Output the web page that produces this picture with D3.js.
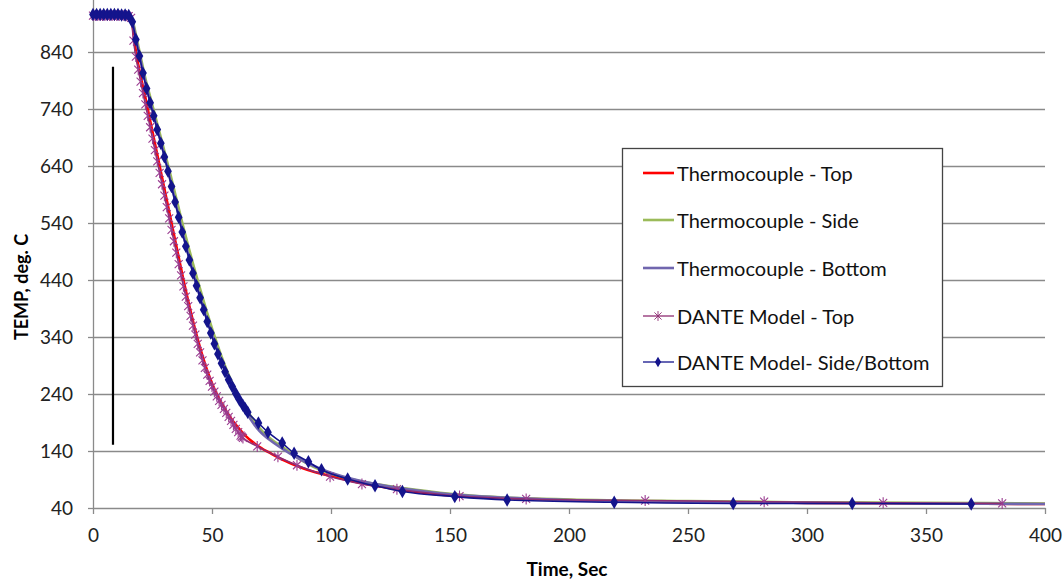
<!DOCTYPE html>
<html><head><meta charset="utf-8">
<script src="https://cdn.jsdelivr.net/npm/d3@7"></script>
<style>
body{margin:0;background:#fff}
svg{display:block}
text{font-family:Lato,"Open Sans",sans-serif}
</style>
</head><body>
<svg id="c" width="1064" height="581"></svg>
<script>
// ---- data (time s, temperature deg C) ----
const xTicks = [0,50,100,150,200,250,300,350,400];
const yTicks = [40,140,240,340,440,540,640,740,840];
const legendLabels = ["Thermocouple - Top","Thermocouple - Side","Thermocouple - Bottom","DANTE Model - Top","DANTE Model- Side/Bottom"];

const tcTop = [[0,904],[5,904],[10,904],[15,903],[16,900],[17,876],[18,842],[19,818],[20,798],[22,760],[24,720],[26,680],[28,640],[30,600],[32,560],[34,520],[36,480],[38,440],[40,403],[42,368],[44,336],[46,307],[48,281],[50,259],[52,240],[55,217],[58,197],[61,181],[64,167],[67,156],[70,147],[75,135],[80,124],[85,115],[90,107],[100,96],[110,86],[120,78],[130,71],[140,66],[150,62],[175,57],[200,54],[250,51],[300,49],[350,48],[400,47]];

const tcSide = [[0,904],[10,904],[15,903],[16,901],[17,890],[18,871],[20,832],[22,794],[24,762],[26,730],[28,698],[30,666],[32,634],[34,600],[36,566],[38,532],[40,500],[42,469],[44,439],[46,410],[48,382],[50,355],[52,330],[54,306],[56,284],[58,264],[60,246],[62,230],[64,216],[66,203],[68,191],[70,180],[75,160],[80,146],[85,131],[90,118],[95,108],[100,100],[110,89],[120,81],[130,75],[150,65],[175,58],[200,55],[250,52],[300,50],[350,49],[400,48]];

const tcBottom = [[0,905],[10,905],[15,904],[16,901],[17,886],[18,865],[20,826],[22,788],[24,754],[26,722],[28,690],[30,658],[32,624],[34,588],[36,552],[38,518],[40,485],[42,454],[44,424],[46,396],[48,369],[50,344],[52,320],[54,298],[56,278],[58,259],[60,241],[62,225],[64,210],[66,197],[68,185],[70,175],[75,157],[80,143],[85,130],[90,119],[95,110],[100,102],[110,90],[120,81],[130,74],[150,64],[175,58],[200,54],[250,51],[300,49],[350,48],[400,47]];

const danteTop = [[0,904],[1,904],[2,904],[3,904],[4,904],[5,904],[6,904],[7,904],[8,904],[9,904],[10,904],[11,904],[12,904],[13,904],[14,904],[15,903],[16,900],[17,860],[18,832],[19,809],[20,788],[21,768],[22,748],[23,728],[24,708],[25,688],[26,668],[27,648],[28,628],[29,608],[30,588],[31,568],[32,548],[33,528],[34,508],[35,488],[36,468],[37,448],[38,429],[39,411],[40,394],[41,377],[42,360],[43,344],[44,328],[45,313],[46,299],[47,286],[48,274],[49,263],[50,253],[51,244],[52,236],[53,228],[54,221],[55,214],[56,207],[57,200],[58,193],[59,186],[60,179],[61,173],[62,167],[62.5,165],[63,163],[69,148],[77.7,130],[85.7,115],[99.6,95],[113,82],[127.7,73],[154,61],[182,56],[232,53],[282,51],[332,49],[382,48]];

const danteSide = [[0,906],[1.5,906],[3,906],[4.5,906],[6,906],[7.5,906],[9,906],[10.5,906],[12,905],[13.5,905],[15,904],[16.5,893],[18,862],[19.5,833],[21,803],[22.5,776],[24,751],[25.5,728],[27,704],[28.5,680],[30,656],[31.5,631],[33,604],[34.5,577],[36,550],[37.5,524],[39,499],[40.5,475],[42,452],[43.5,430],[45,409],[46.5,388],[48,367],[49.5,347],[51,328],[52.5,310],[54,294],[55.5,279],[57,265],[58.5,253],[60,241],[61.5,230],[63,220],[64,214],[65,208],[69.5,189],[73.5,173],[79.5,154],[84.5,136],[90.5,121],[96,107],[107,91],[118.5,79],[130,69],[152,60],[174,54],[219,50],[269,48],[319,48],[369,47]];

// annotation bar drawn on the chart (time, temp range)
const markerBar = {t: 8.4, from: 814, to: 151};

// ---- chart ----
const svg = d3.select("#c");
const x = d3.scaleLinear().domain([0,400]).range([93,1045]);
const y = d3.scaleLinear().domain([40,940]).range([508,-5]);
const gridCol = "#8a8a8a";

// gridlines
const grid = svg.append("g").attr("transform",`translate(${x(0)},0)`)
  .call(d3.axisLeft(y).tickValues(yTicks.slice(1)).tickSize(-(x(400)-x(0))).tickFormat(""));
grid.select(".domain").remove();
grid.selectAll("line").attr("stroke",gridCol).attr("stroke-width",1.3);

// y axis
const ya = svg.append("g").attr("transform",`translate(${x(0)},0)`)
  .call(d3.axisLeft(y).tickValues(yTicks).tickSize(5).tickPadding(15).tickSizeOuter(0));
ya.select(".domain").attr("stroke",gridCol).attr("stroke-width",1.3);
ya.selectAll("line").attr("stroke",gridCol).attr("stroke-width",1.3);
ya.selectAll("text").attr("font-size",19).attr("fill","#222").style("font-family","Lato");

// x axis
const xa = svg.append("g").attr("transform",`translate(0,${y(40)})`)
  .call(d3.axisBottom(x).tickValues(xTicks).tickSize(6).tickPadding(15).tickSizeOuter(0));
xa.select(".domain").attr("stroke",gridCol).attr("stroke-width",1.3);
xa.selectAll("line").attr("stroke",gridCol).attr("stroke-width",1.3);
xa.selectAll("text").attr("font-size",19).attr("fill","#222").style("font-family","Lato");

// titles
svg.append("text").attr("transform","translate(23,287) rotate(-90)")
  .attr("text-anchor","middle").attr("dominant-baseline","middle")
  .attr("font-size",18).attr("font-weight","bold").text("TEMP, deg. C");
svg.append("text").attr("x",567).attr("y",576)
  .attr("text-anchor","middle")
  .attr("font-size",19).attr("font-weight","bold").text("Time, Sec");

// annotation bar
svg.append("line").attr("x1",x(markerBar.t)).attr("x2",x(markerBar.t))
  .attr("y1",y(markerBar.from)).attr("y2",y(markerBar.to))
  .attr("stroke","#000").attr("stroke-width",2.2);

const lineSmooth = d3.line().x(d=>x(d[0])).y(d=>y(d[1])).curve(d3.curveMonotoneX);

const colors = ["#ff0000","#9bbb59","#7066ae","#8e2c72","#14148c"];
const plot = svg.append("g");
[tcTop,tcSide,tcBottom].forEach((s,i)=>{
  plot.append("path").datum(s).attr("d",lineSmooth).attr("fill","none")
    .attr("stroke",colors[i]).attr("stroke-width",2.6).attr("stroke-linejoin","round");
});

const starPath = "M-4,-4L4,4M-4,4L4,-4M0,-5.5L0,5.5";
const diamond = d3.symbol(d3.symbolDiamond).size(52)();

// DANTE top
plot.append("path").datum(danteTop).attr("d",lineSmooth).attr("fill","none")
  .attr("stroke",colors[3]).attr("stroke-width",1.5);
plot.append("g").selectAll("path").data(danteTop).join("path")
  .attr("transform",d=>`translate(${x(d[0])},${y(d[1])})`)
  .attr("d",starPath).attr("stroke","#9a3c90").attr("stroke-width",1.1).attr("fill","none");

// DANTE side/bottom
plot.append("path").datum(danteSide).attr("d",lineSmooth).attr("fill","none")
  .attr("stroke",colors[4]).attr("stroke-width",1.6);
plot.append("g").selectAll("path").data(danteSide).join("path")
  .attr("transform",d=>`translate(${x(d[0])},${y(d[1])})`)
  .attr("d",diamond).attr("fill","#14148c");

// legend
const lg = svg.append("g").attr("transform","translate(622,148)");
lg.append("rect").attr("x",0.5).attr("y",0.5).attr("width",320).attr("height",238)
  .attr("fill","#fff").attr("stroke","#444").attr("stroke-width",1.3);
const rowY = [25,72,120,168,214];
legendLabels.forEach((lab,i)=>{
  const g = lg.append("g").attr("transform",`translate(0,${rowY[i]})`);
  g.append("line").attr("x1",21).attr("x2",52).attr("y1",0).attr("y2",0)
    .attr("stroke",colors[i]).attr("stroke-width",i<3?2.6:1.3);
  if(i===3) g.append("path").attr("transform","translate(36,0) scale(0.9)").attr("d",starPath)
    .attr("stroke",colors[3]).attr("stroke-width",1).attr("fill","none");
  if(i===4) g.append("path").attr("transform","translate(36,0) scale(0.8)").attr("d",diamond).attr("fill","#14148c");
  g.append("text").attr("x",55).attr("y",0).attr("dominant-baseline","central")
    .attr("font-size",20).attr("fill","#111").text(lab);
});
</script>
</body></html>
